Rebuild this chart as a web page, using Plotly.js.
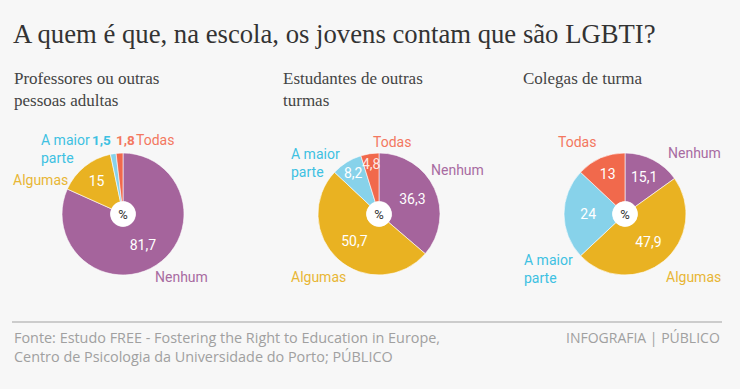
<!DOCTYPE html>
<html>
<head>
<meta charset="utf-8">
<script src="https://cdn.plot.ly/plotly-3.0.1.min.js"></script>
<style>html,body{margin:0;padding:0;background:#f7f7f7;}#chart{width:740px;height:389px;}</style>
</head>
<body>
<div id="chart"></div>
<script>
// ---- data ----
const categories = ["Nenhum", "Algumas", "A maior parte", "Todas"];
const groupTitles = ["Professores ou outras<br>pessoas adultas", "Estudantes de outras<br>turmas", "Colegas de turma"];
const professores = [81.7, 15, 1.5, 1.8];
const estudantes = [36.3, 50.7, 8.2, 4.8];
const colegas = [15.1, 47.9, 24, 13];
const seriesList = [professores, estudantes, colegas];

// ---- style ----
const W = 740, H = 389;
const sliceColors = ["#a5649c", "#e9b222", "#87d2ea", "#f1694c"];
const labelColors = ["#a86ba1", "#e8b635", "#3ec1e2", "#f37760"];
const centers = [[123, 214], [379, 214], [625, 214]];
const R = 61, HOLE_R = 12.5;
const px = x => x / W;
const py = y => 1 - y / H;
const fmt = v => String(v).replace('.', ',');
const OUTSIDE_MAX = 3;   // values below this are written outside the pie
const SMALL_MAX = 6;     // values below this are written as overflowing labels near the rim

const traces = [];
const annotations = [];

seriesList.forEach((vals, i) => {
  const [cx, cy] = centers[i];
  traces.push({
    type: 'pie',
    values: vals,
    labels: categories,
    sort: false,
    direction: 'clockwise',
    rotation: 0,
    hole: HOLE_R / R,
    domain: {x: [px(cx - R), px(cx + R)], y: [py(cy + R), py(cy - R)]},
    marker: {colors: sliceColors, line: {color: 'rgba(255,255,255,0.6)', width: 1}},
    texttemplate: vals.map(v => v >= SMALL_MAX ? '%{value}' : ''),
    textposition: 'inside',
    insidetextorientation: 'horizontal',
    insidetextfont: {family: 'Roboto, sans-serif', size: 14, color: '#ffffff'},
    showlegend: false,
    hoverinfo: 'label+value'
  });
  // white centre disc with % sign
  traces.push({
    type: 'pie',
    values: [1],
    labels: ['%'],
    text: ['%'],
    textinfo: 'text',
    textposition: 'inside',
    insidetextfont: {family: 'Roboto, sans-serif', size: 13, color: '#333333'},
    marker: {colors: ['#ffffff'], line: {width: 0}},
    domain: {x: [px(cx - HOLE_R), px(cx + HOLE_R)], y: [py(cy + HOLE_R), py(cy - HOLE_R)]},
    showlegend: false,
    hoverinfo: 'none',
    sort: false
  });
  // slices that are small but not tiny: label drawn at the slice's mid-angle near the rim
  const total = vals.reduce((a, b) => a + b, 0);
  let cum = 0;
  vals.forEach(v => {
    const mid = (cum + v / 2) / total * 2 * Math.PI;
    cum += v;
    if (v >= OUTSIDE_MAX && v < SMALL_MAX) {
      const r = 0.83 * R;
      annotations.push({
        xref: 'paper', yref: 'paper',
        x: px(cx + r * Math.sin(mid)), y: py(cy - r * Math.cos(mid)),
        xanchor: 'center', yanchor: 'middle', showarrow: false,
        text: fmt(v),
        font: {family: 'Roboto, sans-serif', size: 14, color: 'rgba(255,255,255,0.85)'}
      });
    }
  });
});

// category label positions [x, y, xanchor] per pie, order matches categories
const labelPos = [
  [[153, 277, 'left'], [70, 180, 'right'], [39, 149, 'left'], [134, 140, 'left']],
  [[429, 170, 'left'], [289, 277, 'left'], [289, 163, 'left'], [371, 142, 'left']],
  [[666, 153, 'left'], [664, 277, 'left'], [522, 269, 'left'], [556, 142, 'left']]
];
const catText = ["Nenhum", "Algumas", "A maior<br>parte", "Todas"];

labelPos.forEach((pie, i) => {
  pie.forEach((p, k) => {
    annotations.push({
      xref: 'paper', yref: 'paper', x: px(p[0]), y: py(p[1]),
      xanchor: p[2], yanchor: 'middle', align: 'left', showarrow: false,
      text: catText[k],
      font: {family: 'Roboto, sans-serif', size: 14, color: labelColors[k]}
    });
  });
});

// tiny-slice values shown outside (first pie)
const smallPos = {2: [113, 140, 'right'], 3: [114, 140, 'left']};
professores.forEach((v, k) => {
  if (v < OUTSIDE_MAX) {
    annotations.push({
      xref: 'paper', yref: 'paper', x: px(smallPos[k][0]), y: py(smallPos[k][1]),
      xanchor: smallPos[k][2], yanchor: 'middle', showarrow: false,
      text: '<b>' + fmt(v) + '</b>',
      font: {family: 'Roboto, sans-serif', size: 13.5, color: labelColors[k]}
    });
  }
});

// titles
annotations.push({
  xref: 'paper', yref: 'paper', x: px(11), y: py(34), xanchor: 'left', yanchor: 'middle',
  showarrow: false, text: 'A quem é que, na escola, os jovens contam que são LGBTI?',
  font: {family: '"Liberation Serif", serif', size: 26.7, color: '#333333'}
});
const subX = [12, 281, 521];
groupTitles.forEach((t, i) => {
  annotations.push({
    xref: 'paper', yref: 'paper', x: px(subX[i]), y: py(67), xanchor: 'left', yanchor: 'top',
    align: 'left', showarrow: false, text: t,
    font: {family: '"Liberation Serif", serif', size: 17, color: '#444444'}
  });
});

// footer
annotations.push({
  xref: 'paper', yref: 'paper', x: px(12), y: py(326), xanchor: 'left', yanchor: 'top',
  align: 'left', showarrow: false,
  text: 'Fonte: Estudo FREE - Fostering the Right to Education in Europe,<br>Centro de Psicologia da Universidade do Porto; PÚBLICO',
  font: {family: '"Open Sans", sans-serif', size: 14.4, color: '#a0a0a0'}
});
annotations.push({
  xref: 'paper', yref: 'paper', x: px(722), y: py(326), xanchor: 'right', yanchor: 'top',
  align: 'right', showarrow: false, text: 'INFOGRAFIA | PÚBLICO',
  font: {family: '"Open Sans", sans-serif', size: 14, color: '#a0a0a0'}
});

const layout = {
  width: W, height: H,
  margin: {l: 0, r: 0, t: 0, b: 0},
  paper_bgcolor: '#f7f7f7',
  plot_bgcolor: '#f7f7f7',
  separators: ',.',
  showlegend: false,
  annotations: annotations,
  shapes: [{type: 'line', xref: 'paper', yref: 'paper', x0: px(12), x1: px(722), y0: py(322), y1: py(322),
            line: {color: '#cccccc', width: 2}}]
};

Plotly.newPlot('chart', traces, layout, {displayModeBar: false, staticPlot: true});
</script>
</body>
</html>
